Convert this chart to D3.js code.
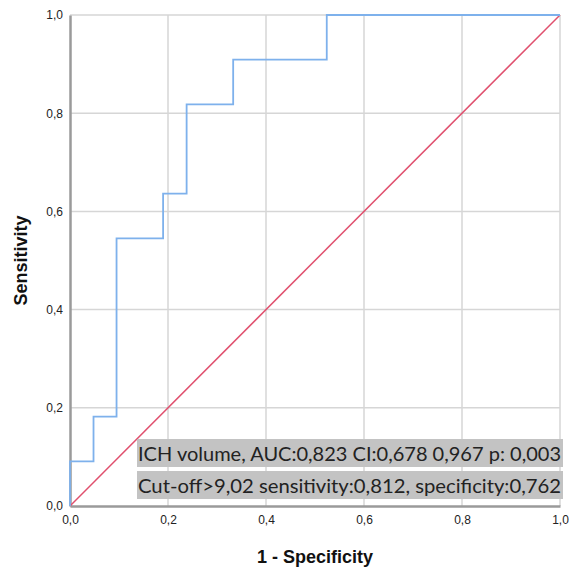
<!DOCTYPE html>
<html>
<head>
<meta charset="utf-8">
<script src="https://cdn.jsdelivr.net/npm/d3@7"></script>
<style>
  body { margin: 0; background: #fff; }
  text { font-family: "Liberation Sans", Arial, sans-serif; }
</style>
</head>
<body>
<div id="chart"></div>
<script>
// ROC step curve (1 - specificity, sensitivity)
var fpr = [0, 0, 0.048, 0.048, 0.095, 0.095, 0.190, 0.190, 0.238, 0.238, 0.333, 0.333, 0.524, 0.524, 1];
var tpr = [0, 0.091, 0.091, 0.182, 0.182, 0.545, 0.545, 0.636, 0.636, 0.818, 0.818, 0.909, 0.909, 1, 1];
var refLine = [0, 1];
var ticks = [0, 0.2, 0.4, 0.6, 0.8, 1.0];
var notes = [
  "ICH volume, AUC:0,823 CI:0,678 0,967 p: 0,003",
  "Cut-off>9,02 sensitivity:0,812, specificity:0,762"
];

var width = 571, height = 569,
    margin = {top: 15, right: 11, bottom: 63, left: 70};

var svg = d3.select("#chart").append("svg")
  .attr("width", width)
  .attr("height", height);

var x = d3.scaleLinear().domain([0, 1]).range([margin.left, width - margin.right]);
var y = d3.scaleLinear().domain([0, 1]).range([height - margin.bottom, margin.top]);
var fmt = d => d3.format(".1f")(d).replace(".", ",");

// grid
svg.append("g")
  .selectAll("line.vg")
  .data(ticks.slice(1))
  .enter().append("line")
  .attr("x1", d => x(d)).attr("x2", d => x(d))
  .attr("y1", y(0)).attr("y2", y(1))
  .attr("stroke", "#d6d6d6").attr("stroke-width", 1.5);

svg.append("g")
  .selectAll("line.hg")
  .data(ticks.slice(1))
  .enter().append("line")
  .attr("y1", d => y(d)).attr("y2", d => y(d))
  .attr("x1", x(0)).attr("x2", x(1))
  .attr("stroke", "#d6d6d6").attr("stroke-width", 1.5);

// axes
var xAxis = d3.axisBottom(x).tickValues(ticks).tickFormat(fmt).tickSize(0).tickPadding(9);
var yAxis = d3.axisLeft(y).tickValues(ticks).tickFormat(fmt).tickSize(0).tickPadding(7);

var gx = svg.append("g")
  .attr("transform", `translate(0,${y(0)})`)
  .call(xAxis);
var gy = svg.append("g")
  .attr("transform", `translate(${x(0)},0)`)
  .call(yAxis);

[gx, gy].forEach(g => {
  g.attr("font-family", null);
  g.select(".domain").attr("stroke", "#9a9a9a").attr("stroke-width", 2.5);
  g.selectAll(".tick text").attr("font-size", 12).attr("fill", "#222");
});

// diagonal reference
svg.append("line")
  .attr("x1", x(refLine[0])).attr("y1", y(refLine[0]))
  .attr("x2", x(refLine[1])).attr("y2", y(refLine[1]))
  .attr("stroke", "#e0506e").attr("stroke-width", 1.5);

// roc curve
var line = d3.line().x(d => x(d[0])).y(d => y(d[1]));
svg.append("path")
  .datum(fpr.map((f, i) => [f, tpr[i]]))
  .attr("d", line)
  .attr("fill", "none")
  .attr("stroke", "#7eb1ec")
  .attr("stroke-width", 1.8);

// annotation boxes
var noteG = svg.append("g");
notes.forEach((t, i) => {
  var top = 439 + i * 32;
  noteG.append("rect")
    .attr("x", 137).attr("y", top)
    .attr("width", 426).attr("height", 28)
    .attr("fill", "#c3c3c3");
  noteG.append("text")
    .attr("x", 138).attr("y", top + 22)
    .attr("font-size", 20)
    .attr("fill", "#222")
    .attr("textLength", 423)
    .attr("lengthAdjust", "spacingAndGlyphs")
    .style("font-family", "Lato, 'Open Sans', sans-serif")
    .text(t);
});

// axis titles
svg.append("text")
  .attr("x", x(0.5)).attr("y", 563)
  .attr("text-anchor", "middle")
  .attr("font-size", 18).attr("font-weight", "bold")
  .attr("fill", "#111")
  .text("1 - Specificity");

svg.append("text")
  .attr("transform", `translate(27,${y(0.5)}) rotate(-90)`)
  .attr("text-anchor", "middle")
  .attr("font-size", 18).attr("font-weight", "bold")
  .attr("fill", "#111")
  .text("Sensitivity");
</script>
</body>
</html>
